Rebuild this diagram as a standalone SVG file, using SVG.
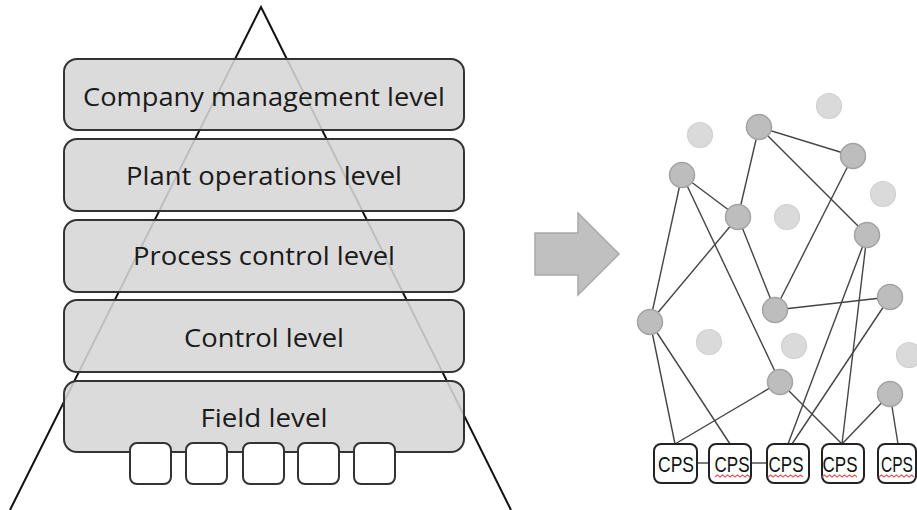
<svg xmlns="http://www.w3.org/2000/svg" width="917" height="510" viewBox="0 0 917 510">
<defs>
<style>
.lvl{fill:#d6d6d6;fill-opacity:0.88;stroke:#333;stroke-width:2}
.lt{font-family:"Open Sans","Liberation Sans",sans-serif;font-size:26px;fill:#1a1a1a;text-anchor:middle}
.sq{fill:#fff;stroke:#333;stroke-width:2}
.edge{stroke:#444;stroke-width:1.4;fill:none}
.dn{fill:#bdbdbd;stroke:#a3a3a3;stroke-width:1.5}
.ln{fill:#dadada;stroke:#d0d0d0;stroke-width:1.2}
.cps{fill:#fff;stroke:#222;stroke-width:2}
.ct{font-family:"Liberation Sans","Open Sans",sans-serif;font-size:22px;fill:#111;text-anchor:middle}
.sq2{stroke:#e05a5a;stroke-width:1.2;fill:none}
</style>
</defs>
<rect width="917" height="510" fill="#fff"/>
<polyline points="10,510 261,7 511,510" fill="none" stroke="#111" stroke-width="2"/>
<g id="level-company"><rect class="lvl" x="64" y="59" width="400" height="71" rx="13"/><text class="lt" x="264" y="106" textLength="362" lengthAdjust="spacingAndGlyphs">Company management level</text></g>
<g id="level-plant"><rect class="lvl" x="64" y="139" width="400" height="72" rx="13"/><text class="lt" x="264" y="185" textLength="276" lengthAdjust="spacingAndGlyphs">Plant operations level</text></g>
<g id="level-process"><rect class="lvl" x="64" y="220" width="400" height="72" rx="13"/><text class="lt" x="264" y="265" textLength="262" lengthAdjust="spacingAndGlyphs">Process control level</text></g>
<g id="level-control"><rect class="lvl" x="64" y="300" width="400" height="72" rx="13"/><text class="lt" x="264" y="347" textLength="160" lengthAdjust="spacingAndGlyphs">Control level</text></g>
<g id="level-field"><rect class="lvl" x="64" y="381" width="400" height="71" rx="13"/><text class="lt" x="264" y="427" textLength="127" lengthAdjust="spacingAndGlyphs">Field level</text></g>
<g id="field-devices">
<rect class="sq" x="130" y="443" width="41" height="41" rx="7"/>
<rect class="sq" x="186" y="443" width="41" height="41" rx="7"/>
<rect class="sq" x="243" y="443" width="41" height="41" rx="7"/>
<rect class="sq" x="298" y="443" width="41" height="41" rx="7"/>
<rect class="sq" x="354" y="443" width="41" height="41" rx="7"/>
</g>
<g id="arrow"><polygon points="535,233 578,233 578,213 619,254 578,295 578,275 535,275" fill="#c0c0c0" stroke="#a8a8a8" stroke-width="1.5"/></g>
<g id="connectors">
<line class="edge" x1="682" y1="175" x2="650" y2="322"/>
<line class="edge" x1="682" y1="175" x2="738" y2="217"/>
<line class="edge" x1="682" y1="175" x2="780" y2="382"/>
<line class="edge" x1="759" y1="127" x2="738" y2="217"/>
<line class="edge" x1="759" y1="127" x2="853" y2="156"/>
<line class="edge" x1="759" y1="127" x2="867" y2="235"/>
<line class="edge" x1="853" y1="156" x2="775" y2="310"/>
<line class="edge" x1="738" y1="217" x2="650" y2="322"/>
<line class="edge" x1="738" y1="217" x2="775" y2="310"/>
<line class="edge" x1="867" y1="235" x2="788" y2="444"/>
<line class="edge" x1="867" y1="235" x2="842" y2="444"/>
<line class="edge" x1="775" y1="310" x2="890" y2="297"/>
<line class="edge" x1="890" y1="297" x2="792" y2="444"/>
<line class="edge" x1="650" y1="322" x2="675" y2="444"/>
<line class="edge" x1="650" y1="322" x2="730" y2="444"/>
<line class="edge" x1="780" y1="382" x2="675" y2="444"/>
<line class="edge" x1="780" y1="382" x2="842" y2="444"/>
<line class="edge" x1="890" y1="394" x2="842" y2="444"/>
<line class="edge" x1="890" y1="394" x2="898" y2="444"/>
<line class="edge" x1="697" y1="463" x2="709" y2="463"/>
<line class="edge" x1="751" y1="463" x2="767" y2="463"/>
</g>
<g id="inactive-nodes">
<circle class="ln" cx="700" cy="135" r="12.5"/>
<circle class="ln" cx="829" cy="106" r="12.5"/>
<circle class="ln" cx="787" cy="217" r="12.5"/>
<circle class="ln" cx="883" cy="194" r="12.5"/>
<circle class="ln" cx="709" cy="342" r="12.5"/>
<circle class="ln" cx="794" cy="346" r="12.5"/>
<circle class="ln" cx="909" cy="355" r="12.5"/>
</g>
<g id="node-a"><circle class="dn" cx="682" cy="175" r="12.5"/></g>
<g id="node-b"><circle class="dn" cx="759" cy="127" r="12.5"/></g>
<g id="node-c"><circle class="dn" cx="853" cy="156" r="12.5"/></g>
<g id="node-d"><circle class="dn" cx="738" cy="217" r="12.5"/></g>
<g id="node-e"><circle class="dn" cx="867" cy="235" r="12.5"/></g>
<g id="node-f"><circle class="dn" cx="890" cy="297" r="12.5"/></g>
<g id="node-g"><circle class="dn" cx="775" cy="310" r="12.5"/></g>
<g id="node-h"><circle class="dn" cx="650" cy="322" r="12.5"/></g>
<g id="node-i"><circle class="dn" cx="780" cy="382" r="12.5"/></g>
<g id="node-j"><circle class="dn" cx="890" cy="394" r="12.5"/></g>
<g id="cps-1"><rect class="cps" x="654" y="444" width="43" height="39" rx="7"/><text class="ct" x="676" y="472" textLength="36" lengthAdjust="spacingAndGlyphs">CPS</text></g>
<g id="cps-2"><rect class="cps" x="709" y="444" width="42" height="39" rx="7"/><text class="ct" x="732" y="472" textLength="35" lengthAdjust="spacingAndGlyphs">CPS</text><path class="sq2" d="M715,477 l2.5,-2 2.5,2 2.5,-2 2.5,2 2.5,-2 2.5,2 2.5,-2 2.5,2 2.5,-2 2.5,2 2.5,-2 2.5,2 2.5,-2 2.5,2"/></g>
<g id="cps-3"><rect class="cps" x="767" y="444" width="42" height="39" rx="7"/><text class="ct" x="786" y="472" textLength="35" lengthAdjust="spacingAndGlyphs">CPS</text><path class="sq2" d="M768,477 l2.5,-2 2.5,2 2.5,-2 2.5,2 2.5,-2 2.5,2 2.5,-2 2.5,2 2.5,-2 2.5,2 2.5,-2 2.5,2 2.5,-2 2.5,2"/></g>
<g id="cps-4"><rect class="cps" x="822" y="444" width="42" height="39" rx="7"/><text class="ct" x="840" y="472" textLength="35" lengthAdjust="spacingAndGlyphs">CPS</text><path class="sq2" d="M822,477 l2.5,-2 2.5,2 2.5,-2 2.5,2 2.5,-2 2.5,2 2.5,-2 2.5,2 2.5,-2 2.5,2 2.5,-2 2.5,2 2.5,-2 2.5,2"/></g>
<g id="cps-5"><rect class="cps" x="878" y="444" width="38" height="39" rx="7"/><text class="ct" x="897" y="472" textLength="32" lengthAdjust="spacingAndGlyphs">CPS</text><path class="sq2" d="M879,477 l2.5,-2 2.5,2 2.5,-2 2.5,2 2.5,-2 2.5,2 2.5,-2 2.5,2 2.5,-2 2.5,2 2.5,-2 2.5,2 2.5,-2 2.5,2"/></g>
</svg>
